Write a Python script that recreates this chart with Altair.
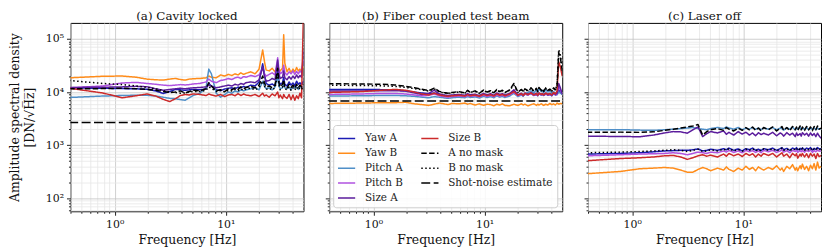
import altair as alt
import pandas as pd

# ---------------- data (values in units of 1e3 DN/sqrt(Hz)) ----------------
FREQ = [0.39, 0.78, 1.17, 1.56, 1.95, 2.34, 2.73, 3.13, 3.52, 3.91, 4.30, 4.69, 5.08,
        5.86, 6.64, 7.03, 7.42, 8.20, 8.98, 9.77, 10.55, 11.33, 12.11, 12.89, 13.67, 14.45, 15.23,
        16.80, 18.36, 19.92, 21.48, 22.27, 23.05, 24.61, 26.17, 27.73, 29.30, 30.08, 30.86, 32.42, 33.20, 33.98,
        35.55, 37.11, 38.67, 40.23, 41.80, 43.36, 44.92, 46.48, 48.05, 50.0]

SERIES = ["Yaw A", "Yaw B", "Pitch A", "Pitch B", "Size A", "Size B", "A no mask", "B no mask"]
SHOT_LABEL = "Shot-noise estimate"
PANEL_TITLES = ["(a) Cavity locked", "(b) Fiber coupled test beam", "(c) Laser off"]
SHOT_NOISE = [2.67, 6.8, None]

# (a) Cavity locked
CAV_YAW_A = [11.9, 11.8, 11.6, 11.5, 11.3, 10.5, 9.4, 10.2, 11.2, 11.0, 10.8, 11.0, 11.2,
             11.0, 11.5, 14.5, 13.0, 11.0, 10.6, 11.4, 11.8, 12.0, 11.5, 12.4, 12.0, 12.8, 12.2,
             13.5, 13.0, 15.5, 34.0, 22.0, 14.5, 13.5, 14.2, 13.0, 24.0, 16.0, 14.0, 15.0, 19.0, 14.0,
             13.0, 15.5, 13.5, 14.8, 13.2, 16.0, 14.0, 15.0, 13.8, 16.0]
CAV_YAW_B = [18.5, 19.8, 20.0, 19.0, 17.5, 17.0, 16.8, 17.5, 18.0, 17.2, 16.8, 17.5, 17.8,
             18.0, 18.5, 20.0, 19.0, 18.5, 21.0, 20.0, 21.5, 20.5, 22.0, 21.0, 23.0, 21.5, 22.5,
             24.0, 22.0, 27.0, 62.0, 38.0, 26.0, 25.0, 28.0, 24.0, 32.0, 26.0, 25.0, 28.0, 120.0, 35.0,
             24.0, 28.0, 23.0, 27.0, 24.0, 29.0, 25.0, 27.0, 24.0, 30.0]
CAV_PITCH_A = [7.9, 8.4, 8.6, 8.7, 8.7, 8.4, 8.0, 7.6, 7.5, 7.2, 7.0, 7.8, 8.6,
               9.5, 12.0, 27.0, 22.0, 9.5, 8.0, 9.0, 10.0, 9.5, 10.5, 10.0, 11.0, 10.5, 11.0,
               11.5, 12.0, 11.0, 16.0, 13.0, 11.5, 12.0, 11.0, 12.5, 20.0, 13.0, 11.5, 12.0, 15.0, 12.0,
               11.5, 12.5, 11.0, 13.0, 11.8, 12.5, 11.2, 13.0, 12.0, 13.0]
CAV_PITCH_B = [12.0, 13.0, 14.8, 15.2, 14.5, 14.0, 13.5, 13.2, 13.5, 13.8, 13.6, 13.8, 14.2,
               14.5, 15.5, 17.5, 16.0, 15.0, 16.5, 17.0, 18.0, 17.2, 18.5, 19.0, 18.0, 19.5, 19.0,
               20.5, 19.5, 21.0, 28.0, 22.0, 20.0, 21.5, 23.0, 21.0, 44.0, 26.0, 22.0, 24.0, 32.0, 23.0,
               21.0, 24.0, 22.0, 25.0, 21.5, 24.5, 22.0, 25.0, 23.0, 40.0]
CAV_SIZE_A = [12.2, 12.3, 12.5, 12.8, 12.6, 11.5, 10.8, 11.2, 11.5, 11.8, 11.5, 11.8, 12.0,
              12.2, 12.5, 13.5, 13.0, 12.0, 12.5, 13.0, 13.5, 13.0, 14.0, 13.5, 14.5, 14.0, 15.0,
              15.5, 15.0, 17.0, 30.0, 20.0, 16.0, 16.5, 18.0, 17.0, 40.0, 22.0, 18.0, 19.0, 25.0, 18.5,
              17.0, 19.5, 17.5, 20.0, 18.0, 21.0, 18.5, 20.5, 19.0, 60.0]
CAV_SIZE_B = [11.8, 9.6, 7.8, 8.5, 9.2, 8.4, 7.3, 6.6, 7.5, 8.6, 9.0, 8.8, 9.2,
              9.0, 8.6, 9.2, 8.8, 8.4, 9.0, 8.2, 8.8, 9.0, 8.5, 9.3, 8.6, 9.2, 8.8,
              8.5, 9.0, 8.2, 9.5, 8.4, 8.8, 8.0, 9.2, 8.5, 10.0, 7.8, 8.8, 7.5, 9.0, 8.2,
              7.6, 9.0, 7.2, 8.8, 7.0, 8.5, 7.5, 9.5, 7.8, 300.0]
CAV_A_NOMASK = [11.5, 11.6, 11.8, 11.5, 11.2, 10.8, 10.2, 9.8, 10.0, 10.5, 9.6, 10.2, 10.8,
                10.5, 11.5, 15.0, 13.0, 10.5, 11.0, 10.2, 11.5, 11.0, 12.0, 11.2, 12.5, 11.5, 12.2,
                12.8, 12.0, 13.5, 20.0, 15.0, 12.5, 13.0, 12.0, 13.5, 28.0, 15.0, 12.5, 14.0, 17.0, 12.5,
                12.0, 14.0, 12.2, 13.5, 11.8, 14.0, 12.0, 13.5, 12.5, 14.0]
CAV_B_NOMASK = [16.5, 14.5, 13.8, 13.0, 12.2, 11.5, 10.6, 10.0, 9.8, 9.5, 9.6, 10.0, 10.3,
                10.2, 10.8, 12.5, 11.8, 10.2, 10.8, 10.0, 10.8, 10.5, 11.2, 10.6, 11.5, 10.8, 11.5,
                11.8, 11.0, 12.2, 16.0, 13.0, 11.2, 11.8, 11.0, 12.0, 22.0, 13.5, 11.0, 12.5, 15.0, 11.5,
                11.0, 12.5, 10.8, 12.0, 10.8, 12.5, 11.0, 12.0, 11.2, 13.0]

# (b) Fiber coupled test beam
FIB_YAW_A = [11.2, 11.2, 11.1, 11.0, 10.5, 10.0, 9.6, 9.3, 9.6, 9.0, 8.6, 8.4, 8.2,
             8.5, 8.3, 8.8, 8.4, 8.6, 8.2, 9.0, 8.5, 8.8, 8.3, 9.2, 8.6, 8.8, 8.4,
             9.0, 10.5, 8.6, 9.0, 8.4, 9.2, 8.8, 9.5, 8.6, 9.0, 8.5, 9.3, 8.8, 9.0, 8.6,
             9.2, 8.7, 9.0, 8.5, 9.4, 8.8, 9.0, 11.0, 10.0, 9.0]
FIB_YAW_B = [6.1, 6.2, 6.3, 6.3, 6.4, 6.0, 5.8, 5.6, 5.9, 6.2, 6.0, 5.8, 6.1,
             6.0, 6.2, 5.9, 6.1, 5.7, 6.0, 5.6, 5.9, 5.8, 5.5, 5.9, 5.7, 6.0, 5.6,
             5.5, 5.9, 5.6, 6.0, 5.7, 5.9, 5.5, 5.8, 6.0, 5.6, 5.9, 5.7, 6.0, 5.8, 5.6,
             5.9, 5.7, 6.1, 5.8, 6.0, 5.7, 6.2, 5.9, 6.1, 6.0]
FIB_PITCH_A = [8.4, 8.5, 8.6, 8.6, 8.5, 8.3, 8.0, 7.8, 8.2, 8.0, 7.8, 7.6, 7.8,
               8.0, 7.8, 8.2, 7.9, 8.1, 7.7, 8.3, 7.9, 8.2, 7.8, 8.5, 8.0, 8.3, 7.9,
               8.4, 9.5, 8.2, 8.8, 8.4, 9.2, 9.8, 10.5, 9.6, 11.0, 10.0, 11.5, 10.2, 10.8, 9.8,
               11.0, 10.0, 10.6, 9.5, 10.2, 9.6, 9.0, 10.0, 9.5, 9.2]
FIB_PITCH_B = [9.0, 9.2, 9.4, 9.4, 9.2, 8.8, 8.5, 8.6, 9.2, 8.5, 8.2, 8.0, 8.2,
               8.4, 8.2, 8.6, 8.3, 8.5, 8.1, 8.7, 8.3, 8.6, 8.2, 8.8, 8.4, 8.7, 8.3,
               8.8, 9.8, 8.5, 9.0, 8.6, 9.2, 8.8, 9.4, 8.7, 9.1, 8.6, 9.3, 8.9, 9.2, 8.7,
               9.3, 8.8, 9.1, 8.7, 9.4, 8.9, 9.2, 13.0, 11.0, 9.2]
FIB_SIZE_A = [10.4, 10.5, 10.6, 10.6, 10.4, 9.6, 9.0, 9.4, 10.8, 9.2, 8.8, 8.6, 8.8,
              9.0, 8.7, 9.3, 8.9, 9.1, 8.6, 9.4, 8.9, 9.3, 8.7, 9.6, 9.0, 9.3, 8.8,
              9.4, 11.0, 8.9, 9.5, 8.8, 9.6, 9.1, 9.8, 9.0, 9.5, 8.8, 9.6, 9.1, 9.4, 8.9,
              9.6, 9.0, 9.4, 8.8, 9.7, 9.1, 9.4, 14.5, 12.0, 9.3]
FIB_SIZE_B = [9.8, 10.2, 10.8, 11.2, 10.8, 10.0, 9.2, 8.8, 9.5, 8.8, 8.5, 8.3, 8.5,
              8.7, 8.4, 8.9, 8.5, 8.8, 8.3, 9.0, 8.6, 8.9, 8.4, 9.2, 8.7, 9.0, 8.5,
              9.1, 10.2, 8.7, 9.3, 8.6, 9.4, 9.0, 9.6, 8.8, 9.4, 8.7, 9.5, 9.0, 9.3, 8.8,
              9.5, 9.0, 9.4, 8.8, 9.8, 9.2, 10.5, 37.0, 30.0, 20.0]
FIB_A_NOMASK = [14.3, 14.2, 14.0, 13.6, 12.8, 12.0, 11.3, 10.6, 11.8, 10.3, 9.8, 9.5, 9.8,
                10.2, 9.6, 10.8, 9.9, 10.5, 9.5, 10.9, 10.0, 10.6, 9.7, 11.2, 10.2, 10.8, 9.8,
                11.0, 14.5, 10.0, 11.2, 10.2, 11.5, 10.6, 12.0, 10.5, 11.8, 10.3, 12.2, 10.8, 11.5, 10.4,
                12.0, 10.8, 11.4, 10.5, 12.0, 11.0, 13.0, 55.0, 45.0, 25.0]
FIB_B_NOMASK = [13.4, 13.3, 13.1, 12.8, 12.2, 11.6, 11.0, 10.4, 11.5, 10.1, 9.6, 9.4, 9.6,
                10.0, 9.5, 10.6, 9.8, 10.4, 9.4, 10.8, 9.9, 10.5, 9.6, 11.0, 10.1, 10.6, 9.7,
                10.8, 13.5, 9.9, 11.0, 10.1, 11.2, 10.4, 11.6, 10.3, 11.5, 10.1, 11.8, 10.6, 11.2, 10.2,
                11.6, 10.6, 11.1, 10.3, 11.6, 10.8, 14.0, 63.0, 50.0, 28.0]

# (c) Laser off
OFF_YAW_A = [0.68, 0.70, 0.72, 0.75, 0.78, 0.79, 0.80, 0.80, 0.82, 0.85, 0.78, 0.80, 0.84,
             0.80, 0.86, 0.82, 0.88, 0.80, 0.85, 0.78, 0.86, 0.82, 0.88, 0.80, 0.84, 0.79, 0.86,
             0.82, 0.88, 0.80, 0.86, 0.90, 0.82, 0.87, 0.80, 0.88, 0.84, 0.90, 0.81, 0.87, 0.83, 0.89,
             0.82, 0.88, 0.84, 0.90, 0.81, 0.87, 0.83, 0.90, 0.85, 0.86]
OFF_YAW_B = [0.29, 0.32, 0.36, 0.37, 0.38, 0.37, 0.34, 0.31, 0.31, 0.35, 0.38, 0.36, 0.33,
             0.37, 0.34, 0.39, 0.35, 0.32, 0.37, 0.34, 0.40, 0.35, 0.38, 0.33, 0.39, 0.36, 0.34,
             0.38, 0.35, 0.41, 0.34, 0.37, 0.32, 0.40, 0.36, 0.43, 0.34, 0.38, 0.33, 0.41, 0.36, 0.44,
             0.35, 0.40, 0.33, 0.42, 0.36, 0.45, 0.34, 0.48, 0.37, 0.40]
OFF_PITCH_A = [1.95, 1.96, 1.92, 1.90, 1.95, 2.00, 2.05, 2.10, 2.15, 2.05, 2.00, 1.95, 2.05,
               2.15, 2.05, 2.20, 2.10, 2.00, 2.15, 1.95, 2.10, 2.00, 2.15, 1.98, 2.10, 1.95, 2.12,
               2.00, 2.15, 1.95, 2.10, 2.05, 1.92, 2.12, 2.00, 2.18, 1.95, 2.10, 2.02, 2.15, 1.96, 2.08,
               2.00, 2.15, 1.95, 2.10, 1.98, 2.12, 1.95, 2.10, 2.00, 2.05]
OFF_PITCH_B = [0.63, 0.66, 0.68, 0.69, 0.70, 0.72, 0.70, 0.66, 0.70, 0.74, 0.72, 0.70, 0.74,
               0.72, 0.78, 0.74, 0.80, 0.73, 0.78, 0.72, 0.80, 0.75, 0.79, 0.73, 0.78, 0.72, 0.80,
               0.75, 0.80, 0.73, 0.78, 0.82, 0.74, 0.79, 0.72, 0.80, 0.76, 0.81, 0.73, 0.79, 0.75, 0.80,
               0.74, 0.80, 0.76, 0.82, 0.73, 0.79, 0.75, 0.81, 0.77, 0.78]
OFF_SIZE_A = [1.47, 1.46, 1.44, 1.55, 1.70, 1.80, 1.78, 1.68, 1.95, 2.20, 1.45, 1.65, 1.80,
              1.70, 1.85, 1.60, 1.75, 1.55, 1.80, 1.62, 1.75, 1.55, 1.70, 1.50, 1.72, 1.58, 1.68,
              1.55, 1.75, 1.50, 1.70, 1.62, 1.48, 1.72, 1.55, 1.68, 1.45, 1.70, 1.52, 1.65, 1.48, 1.72,
              1.55, 1.68, 1.48, 1.70, 1.52, 1.65, 1.45, 1.68, 1.50, 1.35]
OFF_SIZE_B = [0.51, 0.56, 0.58, 0.60, 0.63, 0.64, 0.60, 0.54, 0.58, 0.63, 0.66, 0.62, 0.65,
              0.60, 0.68, 0.62, 0.70, 0.63, 0.68, 0.61, 0.70, 0.64, 0.69, 0.60, 0.68, 0.62, 0.70,
              0.64, 0.70, 0.60, 0.68, 0.72, 0.62, 0.68, 0.58, 0.70, 0.63, 0.69, 0.57, 0.68, 0.62, 0.70,
              0.60, 0.69, 0.58, 0.70, 0.62, 0.68, 0.56, 0.70, 0.61, 0.64]
OFF_A_NOMASK = [1.75, 1.76, 1.74, 1.78, 1.90, 2.00, 2.10, 2.20, 2.30, 2.45, 1.55, 1.80, 1.95,
                2.05, 1.90, 2.15, 2.00, 1.85, 2.10, 1.90, 2.15, 1.95, 2.20, 1.90, 2.10, 1.85, 2.15,
                1.95, 2.20, 1.85, 2.10, 2.25, 1.90, 2.15, 1.85, 2.25, 1.95, 2.20, 1.90, 2.30, 1.95, 2.20,
                1.90, 2.25, 1.95, 2.20, 1.88, 2.25, 1.95, 2.30, 2.00, 2.10]
OFF_B_NOMASK = [0.72, 0.74, 0.76, 0.78, 0.80, 0.82, 0.80, 0.76, 0.80, 0.84, 0.76, 0.78, 0.82,
                0.78, 0.84, 0.80, 0.86, 0.78, 0.83, 0.77, 0.84, 0.80, 0.86, 0.78, 0.83, 0.78, 0.85,
                0.80, 0.86, 0.78, 0.84, 0.88, 0.80, 0.85, 0.78, 0.86, 0.82, 0.88, 0.79, 0.85, 0.81, 0.87,
                0.80, 0.86, 0.82, 0.88, 0.79, 0.85, 0.81, 0.88, 0.83, 0.84]

PANELS = [
    [CAV_YAW_A, CAV_YAW_B, CAV_PITCH_A, CAV_PITCH_B, CAV_SIZE_A, CAV_SIZE_B, CAV_A_NOMASK, CAV_B_NOMASK],
    [FIB_YAW_A, FIB_YAW_B, FIB_PITCH_A, FIB_PITCH_B, FIB_SIZE_A, FIB_SIZE_B, FIB_A_NOMASK, FIB_B_NOMASK],
    [OFF_YAW_A, OFF_YAW_B, OFF_PITCH_A, OFF_PITCH_B, OFF_SIZE_A, OFF_SIZE_B, OFF_A_NOMASK, OFF_B_NOMASK],
]

# ---------------- styling ----------------
FONT = "DejaVu Serif"
STYLE = {
    "Yaw A": ("#1c1cb4", [1, 0], 1.5),
    "Yaw B": ("#ff8c1a", [1, 0], 1.5),
    "Pitch A": ("#4f8fc8", [1, 0], 1.5),
    "Pitch B": ("#b052e0", [1, 0], 1.5),
    "Size A": ("#5b1c9c", [1, 0], 1.5),
    "Size B": ("#cc2a2a", [1, 0], 1.5),
    "A no mask": ("#000000", [5.5, 2.4], 1.5),
    "B no mask": ("#000000", [1.5, 2.5], 1.5),
    SHOT_LABEL: ("#000000", [9, 3.5], 2.6),
}
# legend entries fill the two columns top to bottom
LEGEND_ORDER = SERIES + [SHOT_LABEL]

color_scale = alt.Scale(domain=LEGEND_ORDER, range=[STYLE[s][0] for s in LEGEND_ORDER])
dash_scale = alt.Scale(domain=LEGEND_ORDER, range=[STYLE[s][1] for s in LEGEND_ORDER])
width_scale = alt.Scale(domain=LEGEND_ORDER, range=[STYLE[s][2] for s in LEGEND_ORDER])

x_scale = alt.Scale(type="log", domain=[0.4, 50], nice=False)
y_scale = alt.Scale(type="log", domain=[57, 200000], nice=False)

X_TICKS = [0.4, 0.5, 0.6, 0.7, 0.8, 0.9, 1, 2, 3, 4, 5, 6, 7, 8, 9, 10, 20, 30, 40]
Y_TICKS = [60, 70, 80, 90, 100, 200, 300, 400, 500, 600, 700, 800, 900,
           1000, 2000, 3000, 4000, 5000, 6000, 7000, 8000, 9000,
           10000, 20000, 30000, 40000, 50000, 60000, 70000, 80000, 90000, 100000]

x_major = "datum.value == 1 || datum.value == 10"
y_major = "datum.value == 100 || datum.value == 1000 || datum.value == 10000 || datum.value == 100000"


def x_axis():
    return alt.Axis(
        title="Frequency [Hz]", values=X_TICKS,
        labelExpr="datum.value == 1 ? '10⁰' : datum.value == 10 ? '10¹' : ''",
        tickSize={"condition": {"test": x_major, "value": 4}, "value": 2},
        gridColor={"condition": {"test": x_major, "value": "#c4c4c4"}, "value": "#e6e6e6"},
        labelFlush=False, labelOverlap=False, domain=False, titlePadding=4,
    )


def y_axis(show):
    kw = dict(
        values=Y_TICKS,
        tickSize={"condition": {"test": y_major, "value": 4}, "value": 2},
        gridColor={"condition": {"test": y_major, "value": "#c4c4c4"}, "value": "#e6e6e6"},
        labelOverlap=False, labelFlush=False, domain=False,
    )
    if show:
        return alt.Axis(
            title=["Amplitude spectral density", "[DN/√H\u0305z\u0305]"],
            labelExpr="datum.value == 100 ? '10²' : datum.value == 1000 ? '10³' : "
                      "datum.value == 10000 ? '10⁴' : datum.value == 100000 ? '10⁵' : ''",
            titlePadding=9, titleLineHeight=15, **kw)
    return alt.Axis(title=None, labels=False, **kw)


def make_panel(idx):
    show_legend = idx == 1
    legend = alt.Legend(
        title=None, orient="bottom-left", columns=2, symbolType="stroke",
        symbolSize=300, symbolLimit=0, labelFont=FONT, labelFontSize=10.5, labelColor="#222222",
        fillColor="rgba(255,255,255,0.85)", strokeColor="#cccccc", cornerRadius=3,
        padding=4, offset=4, rowPadding=0, columnPadding=14, labelOffset=9,
        symbolOffset=0,
    ) if show_legend else None

    def enc(chart):
        return chart.encode(
            x=alt.X("freq:Q", scale=x_scale, axis=x_axis()),
            y=alt.Y("value:Q", scale=y_scale, axis=y_axis(idx == 0)),
            color=alt.Color("series:N", scale=color_scale, legend=legend),
            strokeDash=alt.StrokeDash("series:N", scale=dash_scale, legend=legend),
            strokeWidth=alt.StrokeWidth("series:N", scale=width_scale, legend=legend),
        )

    layers = []
    for name, vals in zip(SERIES, PANELS[idx]):
        df = pd.DataFrame({"freq": FREQ, "value": [v * 1000 for v in vals], "series": name})
        layers.append(enc(alt.Chart(df).mark_line(clip=True, strokeJoin="round")))
    shot = SHOT_NOISE[idx]
    if shot is not None:
        df = pd.DataFrame({"freq": [FREQ[0], FREQ[-1]], "value": [shot * 1000] * 2,
                           "series": SHOT_LABEL})
        layers.append(enc(alt.Chart(df).mark_line(clip=True)))
    return alt.layer(*layers).properties(
        width=235, height=190,
        title=alt.TitleParams(PANEL_TITLES[idx], font=FONT, fontSize=12,
                              fontWeight="normal", offset=0, color="#111111"),
    )


chart = alt.hconcat(*[make_panel(i) for i in range(3)], spacing=20).resolve_scale(
    color="independent", strokeDash="independent", strokeWidth="independent"
).resolve_legend(
    color="independent", strokeDash="independent", strokeWidth="independent"
).configure(
    font=FONT, padding={"left": 0, "top": 0, "right": 0, "bottom": 0}
).configure_view(
    stroke="black", strokeWidth=1
).configure_axis(
    labelFont=FONT, titleFont=FONT, labelFontSize=11, titleFontSize=12.5,
    titleFontWeight="normal", labelColor="#111111", titleColor="#111111",
    tickColor="#222222", gridWidth=0.8, labelPadding=3,
)

chart.save("out.html", embed_options={"renderer": "svg", "actions": False})
